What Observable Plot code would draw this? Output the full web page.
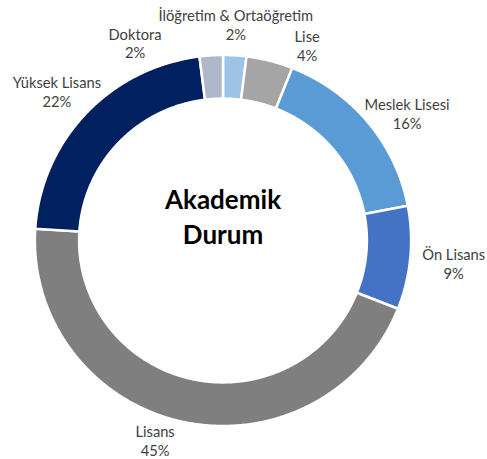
<!DOCTYPE html>
<html>
<head>
<meta charset="utf-8">
<script src="https://cdn.jsdelivr.net/npm/d3@7"></script>
<script src="https://cdn.jsdelivr.net/npm/@observablehq/plot@0.6"></script>
<style>
  html, body { margin: 0; padding: 0; background: #fff; }
  #chart { width: 487px; height: 459px; }
</style>
</head>
<body>
<div id="chart"></div>
<script>
// ---- data ----
const categories = ["İlöğretim & Ortaöğretim", "Lise", "Meslek Lisesi", "Ön Lisans", "Lisans", "Yüksek Lisans", "Doktora"];
const values = [2, 4, 16, 9, 45, 22, 2];
const colors = ["#9DC3E6", "#A5A5A5", "#5B9BD5", "#4472C4", "#7F7F7F", "#002060", "#ADB9CA"];
const centerTitle = "Akademik\nDurum";

// ---- layout (label anchors in polar form: degrees clockwise from top, radius relative to outer ring) ----
const labelAngles = [3.4, 23.3, 55.3, 95.7, 198.8, 311.9, 336.0];
const labelRadii = [1.169, 1.147, 1.207, 1.250, 1.136, 1.203, 1.166];
const W = 487, H = 459, R = 185.5, sx = 1.014, cx = 222.5, cy = 240, innerRatio = 0.765;

const pie = d3.pie().sort(null).value(d => d)(values);
const ringPt = (a, r) => [r * Math.sin(a) * sx, r * Math.cos(a)];
const polarPt = (a, r) => [r * Math.sin(a), r * Math.cos(a)];

const slices = pie.map((p, i) => {
  const n = Math.max(8, Math.ceil((p.endAngle - p.startAngle) * 180));
  const outer = d3.range(n + 1).map(k => ringPt(p.startAngle + (p.endAngle - p.startAngle) * k / n, 1));
  const inner = d3.range(n + 1).map(k => ringPt(p.endAngle - (p.endAngle - p.startAngle) * k / n, innerRatio));
  const ring = outer.concat(inner);
  ring.push(ring[0]);
  return {
    type: "Feature",
    properties: {name: categories[i], value: values[i], color: colors[i]},
    geometry: {type: "Polygon", coordinates: [ring]}
  };
});

const labels = categories.map((c, i) => {
  const a = labelAngles[i] * Math.PI / 180;
  const [x, y] = polarPt(a, labelRadii[i]);
  return {x, y, text: `${c}\n${values[i]}%`};
});

const chart = Plot.plot({
  width: W,
  height: H,
  margin: 0,
  inset: 0,
  style: {background: "#fff"},
  projection: {
    type: "reflect-y",
    domain: {type: "MultiPoint", coordinates: [[-cx / R, cy / R], [(W - cx) / R, -(H - cy) / R]]}
  },
  marks: [
    Plot.geo(slices, {fill: d => d.properties.color, stroke: "#fff", strokeWidth: 2.5, strokeLinejoin: "miter"}),
    Plot.text(labels, {x: "x", y: "y", text: "text", fontSize: 14.7, lineHeight: 1.29, fill: "#404040", fontFamily: "Lato"}),
    Plot.text([centerTitle], {x: 0, y: 0.137, text: d => d, fontSize: 26, lineHeight: 1.35, fontWeight: "bold", fill: "#000", fontFamily: "Lato"})
  ]
});
document.getElementById("chart").appendChild(chart);
</script>
</body>
</html>
